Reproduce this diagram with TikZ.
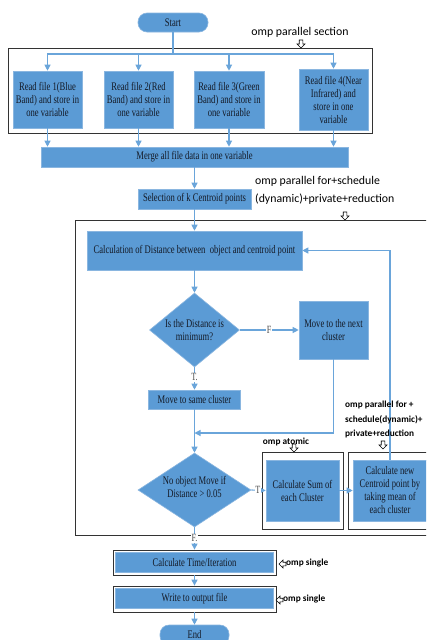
\documentclass[tikz,border=0pt]{standalone}
\usepackage{fontspec}
\newfontfamily\flowfont{Liberation Serif}[FakeStretch=0.74]
\newfontfamily\annfont{Carlito}
\usetikzlibrary{arrows.meta,shapes.geometric,calc}
\definecolor{boxblue}{HTML}{5B9BD5}
\definecolor{lineblue}{HTML}{6AA5DA}
\definecolor{edgeblue}{HTML}{8AB6E0}
\definecolor{txt}{HTML}{141A26}
\tikzset{
  blk/.style={rectangle, fill=boxblue, draw=edgeblue, line width=0.6pt, inner sep=1pt,
    align=center, text=txt, font=\flowfont\fontsize{11.6}{13}\selectfont},
  pill/.style={blk, rounded corners=9pt},
  dia/.style={diamond, fill=boxblue, draw=edgeblue, line width=0.6pt, inner sep=0pt},
  diatext/.style={align=center, text=txt, font=\flowfont\fontsize{11.6}{13.5}\selectfont, inner sep=0pt},
  frame/.style={rectangle, draw=black!80, line width=0.8pt, inner sep=0pt},
  arr/.style={draw=lineblue, line width=1.1pt, -{Triangle[length=6pt,width=6pt]}},
  ln/.style={draw=lineblue, line width=1.1pt},
  tf/.style={fill=white, inner sep=0.6pt, text=black!70, font=\flowfont\fontsize{11}{12}\selectfont},
  ann/.style={align=left, text=black, font=\annfont\fontsize{11.8}{18}\selectfont, inner sep=0pt},
  bann/.style={align=left, text=black, font=\annfont\bfseries\fontsize{9.3}{14.5}\selectfont, inner sep=0pt},
  hdown/.pic={\draw[black, line width=0.6pt, fill=white] (-1.8,0) -- (1.8,0) -- (1.8,4) -- (4,4) -- (0,8) -- (-4,4) -- (-1.8,4) -- cycle;},
  hleft/.pic={\draw[black, line width=0.6pt, fill=white] (0,0) -- (4,-4) -- (4,-1.8) -- (7,-1.8) -- (7,1.8) -- (4,1.8) -- (4,4) -- cycle;}
}
\begin{document}
\begin{tikzpicture}[x=1pt,y=-1pt]
\useasboundingbox (0,0) rectangle (426,640);
\clip (0,0) rectangle (426,640);
\fill[white] (0,0) rectangle (426,640);

% frames
\node[frame, minimum width=364pt, minimum height=85pt] (sec) at (190,90.5) {};
\node[frame, minimum width=370pt, minimum height=315pt] (loopf) at (260,377.5) {};
\node[frame, minimum width=81pt, minimum height=77pt] (atf) at (302.5,490.5) {};
\node[frame, minimum width=92pt, minimum height=77pt] (pff) at (394,490.5) {};
\node[frame, minimum width=163pt, minimum height=25pt] (tfr) at (194.5,562.5) {};
\node[frame, minimum width=163pt, minimum height=26pt] (wfr) at (194.5,599) {};

% nodes
\node[pill, minimum width=70pt, minimum height=19pt] (start) at (173,22.5) {Start};
\node[blk, minimum width=69pt, minimum height=57pt] (r1) at (47.5,99.5) {Read file 1(Blue\\Band) and store in\\one variable};
\node[blk, minimum width=69pt, minimum height=57pt] (r2) at (138.5,99.5) {Read file 2(Red\\Band) and store in\\one variable};
\node[blk, minimum width=70pt, minimum height=57pt] (r3) at (229,99.5) {Read file 3(Green\\Band) and store in\\one variable};
\node[blk, minimum width=69pt, minimum height=61pt] (r4) at (333.5,99.5) {Read file 4(Near\\Infrared) and\\store in one\\variable};
\node[blk, minimum width=307pt, minimum height=20pt] (merge) at (194.5,157) {Merge all file data in one variable};
\node[blk, minimum width=113pt, minimum height=20pt] (sel) at (194.5,199) {Selection of k Centroid points};
\node[blk, minimum width=215pt, minimum height=39pt] (dist) at (194.5,250.5) {Calculation of Distance between\ \ object and centroid point};
\node[dia, minimum width=90pt, minimum height=74pt] (d1) at (194.5,330) {};
\node[diatext] (d1t) at (194.5,330) {Is the Distance is\\minimum?};
\node[blk, minimum width=69pt, minimum height=58pt] (next) at (333.5,330) {Move to the next\\cluster};
\node[blk, minimum width=92pt, minimum height=19pt] (same) at (194.5,399.5) {Move to same cluster};
\coordinate (jn) at (194.5,433);
\node[dia, minimum width=113pt, minimum height=74pt] (d2) at (194.5,490) {};
\node[diatext] (d2t) at (194.5,487) {No object Move if\\Distance > 0.05};
\node[blk, minimum width=73pt, minimum height=61pt] (sum) at (302.5,490.5) {Calculate Sum of\\each Cluster};
\node[blk, minimum width=74pt, minimum height=61pt] (cent) at (390,490.5) {Calculate new\\Centroid point by\\taking mean of\\each cluster};
\node[blk, minimum width=158pt, minimum height=20pt] (time) at (194.5,562.5) {Calculate Time/Iteration};
\node[blk, minimum width=158pt, minimum height=20pt] (write) at (194.5,598.5) {Write to output file};
\node[pill, minimum width=69pt, minimum height=20pt] (end) at (194.5,635) {End};

% connectors
\coordinate (split) at (173,54);
\draw[ln] (start.south) -- (split);
\draw[arr] (split) -| (r1.north);
\draw[arr] (split) -| (r2.north);
\draw[arr] (split) -| (r3.north);
\draw[arr] (split) -| (r4.north);
\draw[arr] (r1.south) -- (r1.south |- merge.north);
\draw[arr] (r2.south) -- (r2.south |- merge.north);
\draw[arr] (r3.south) -- (r3.south |- merge.north);
\draw[arr] (r4.south) -- (r4.south |- merge.north);
\draw[arr] (merge) -- (sel);
\draw[arr] (sel) -- (dist);
\draw[arr] (dist) -- (d1);
\draw[arr] (d1.east) -- node[tf] {F} (next.west);
\draw[arr] (d1.south) -- node[tf, pos=0.45] {T.} (same.north);
\draw[arr] (next.south) |- (jn);
\draw[arr] (same) -- (d2);
\draw[arr] (d2.east) -- node[tf, pos=0.45] {T} (sum.west);
\draw[arr] (sum.east) -- (cent.west);
\draw[arr] (cent.north) |- (dist.east);
\draw[arr] (d2.south) -- node[tf, pos=0.5] {F.} (tfr.north);
\draw[arr] (tfr.south) -- (wfr.north);
\draw[arr] (wfr.south) -- (end.north);

% annotations
\node[ann, anchor=center] (a1) at (300,32) {omp parallel section};
\pic at (301,40) {hdown};
\node[ann, anchor=north west] (a2) at (255,176) {omp parallel for+schedule\\(dynamic)+private+reduction};
\pic at (345,212) {hdown};
\node[bann, anchor=center] (a3) at (286,442) {omp atomic};
\pic at (294,444) {hdown};
\node[bann, anchor=north west] (a4) at (345,401) {omp parallel for +\\schedule(dynamic)+\\private+reduction};
\pic at (383,441) {hdown};
\node[bann, anchor=west] (a5) at (286,563) {omp single};
\pic at (279,564) {hleft};
\node[bann, anchor=west] (a6) at (283,599) {omp single};
\pic at (276,600) {hleft};
\end{tikzpicture}
\end{document}
